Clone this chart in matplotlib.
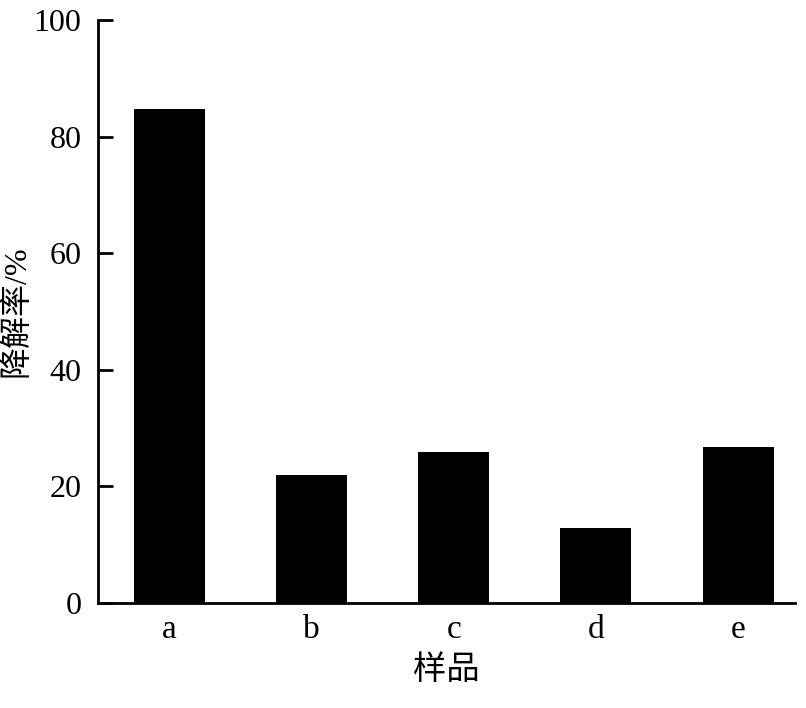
import matplotlib
matplotlib.use('Agg')
import matplotlib.pyplot as plt

# datos
muestras = ['a', 'b', 'c', 'd', 'e']
degradacion = [84.8, 22.0, 25.9, 12.9, 26.8]
ticks_y = [0, 20, 40, 60, 80, 100]

plt.rcParams['font.family'] = ['Liberation Serif', 'Noto Sans CJK SC']

fig = plt.figure(figsize=(8.06, 7.08), dpi=100)
ax = fig.add_axes([0.1216, 0.1483, 0.8648, 0.8235])

ax.bar(range(len(muestras)), degradacion, width=0.5, color='black')

ax.set_xlim(-0.5, 4.4)
ax.set_ylim(0, 100)
ax.set_yticks(ticks_y)
ax.set_xticks(range(len(muestras)))
ax.set_xticklabels(muestras)

for lado in ['top', 'right']:
    ax.spines[lado].set_visible(False)
for lado in ['left', 'bottom']:
    ax.spines[lado].set_linewidth(2)

ax.tick_params(axis='y', direction='in', length=11, width=2, labelsize=23, pad=12)
ax.tick_params(axis='x', length=0, labelsize=24, pad=8)

ax.set_xlabel('样品', fontsize=24, labelpad=8)
ax.set_ylabel('降解率/%', fontsize=23)
ax.yaxis.set_label_coords(-0.095, 0.5)

fig.savefig('out.png', dpi=100)
